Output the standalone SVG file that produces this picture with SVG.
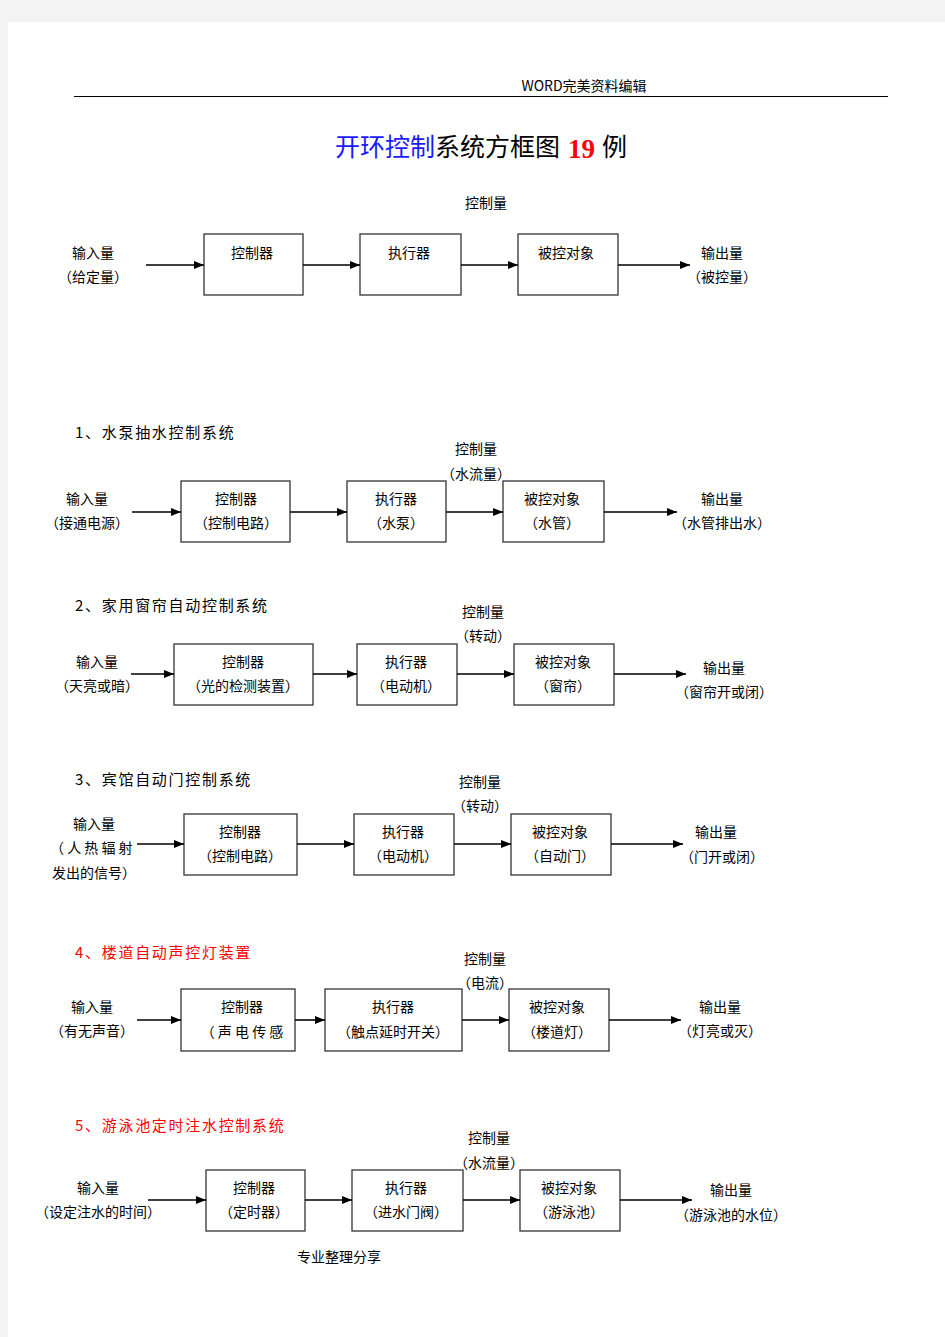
<svg xmlns="http://www.w3.org/2000/svg" width="945" height="1337" viewBox="0 0 945 1337">
<defs>
<marker id="ah" markerUnits="userSpaceOnUse" markerWidth="10" markerHeight="8" refX="10" refY="4" orient="auto">
<path d="M0,0 L10,4 L0,8 z" fill="#000"/>
</marker>
<style>
text{font-family:"Noto Sans CJK SC","Liberation Sans",sans-serif;font-size:14px;fill:#000;text-anchor:middle}
.l{text-anchor:start}
.h{font-size:15px;letter-spacing:1.7px}
.red{fill:#ff0000}
.box{fill:#fff;stroke:#333;stroke-width:1.3}
.c line{stroke:#000;stroke-width:1.6;marker-end:url(#ah)}
</style>
</defs>
<rect x="0" y="0" width="945" height="1337" fill="#f3f3f3"/>
<rect x="8" y="22" width="937" height="1315" fill="#fff"/>
<g id="header">
<text x="584" y="91" style="font-size:14px">WORD完美资料编辑</text>
<line x1="74" y1="96.5" x2="888" y2="96.5" stroke="#000" stroke-width="1"/>
</g>
<g id="title">
<text class="l" x="335" y="156" style="font-size:25px"><tspan fill="#1a1aff">开环控制</tspan>系统方框图</text>
<text class="l" x="568" y="158" style="font-family:'Liberation Serif',serif;font-size:27px;font-weight:bold;fill:#ff0000">19</text>
<text class="l" x="602" y="156" style="font-size:25px">例</text>
</g>

<!-- Diagram 0 -->
<g id="d0-labels">
<text x="486" y="208">控制量</text>
<text x="93" y="258">输入量</text>
<text x="93" y="282">（给定量）</text>
<text x="722" y="258">输出量</text>
<text x="722" y="282">（被控量）</text>
</g>
<g id="d0-ctrl"><rect class="box" x="204" y="234" width="99" height="61"/><text x="252" y="258">控制器</text></g>
<g id="d0-act"><rect class="box" x="360" y="234" width="101" height="61"/><text x="409" y="258">执行器</text></g>
<g id="d0-obj"><rect class="box" x="518" y="234" width="100" height="61"/><text x="566" y="258">被控对象</text></g>
<g id="d0-conn" class="c">
<line x1="146" y1="265" x2="204" y2="265"/>
<line x1="303" y1="265" x2="360" y2="265"/>
<line x1="461" y1="265" x2="518" y2="265"/>
<line x1="618" y1="265" x2="690" y2="265"/>
</g>

<!-- Diagram 1 -->
<text class="l h" x="75" y="438">1、水泵抽水控制系统</text>
<g id="d1-labels">
<text x="476" y="454">控制量</text>
<text x="476" y="479">（水流量）</text>
<text x="87" y="504">输入量</text>
<text x="87" y="528">（接通电源）</text>
<text x="722" y="504">输出量</text>
<text x="722" y="528">（水管排出水）</text>
</g>
<g id="d1-ctrl"><rect class="box" x="181" y="481" width="109" height="61"/><text x="236" y="504">控制器</text><text x="236" y="528">（控制电路）</text></g>
<g id="d1-act"><rect class="box" x="347" y="481" width="99" height="61"/><text x="396" y="504">执行器</text><text x="396" y="528">（水泵）</text></g>
<g id="d1-obj"><rect class="box" x="503" y="481" width="101" height="61"/><text x="552" y="504">被控对象</text><text x="552" y="528">（水管）</text></g>
<g id="d1-conn" class="c">
<line x1="132" y1="512" x2="181" y2="512"/>
<line x1="290" y1="512" x2="347" y2="512"/>
<line x1="446" y1="512" x2="503" y2="512"/>
<line x1="604" y1="512" x2="677" y2="512"/>
</g>

<!-- Diagram 2 -->
<text class="l h" x="75" y="611">2、家用窗帘自动控制系统</text>
<g id="d2-labels">
<text x="483" y="617">控制量</text>
<text x="483" y="641">（转动）</text>
<text x="97" y="667">输入量</text>
<text x="97" y="691">（天亮或暗）</text>
<text x="724" y="673">输出量</text>
<text x="724" y="697">（窗帘开或闭）</text>
</g>
<g id="d2-ctrl"><rect class="box" x="174" y="644" width="139" height="61"/><text x="243" y="667">控制器</text><text x="243" y="691">（光的检测装置）</text></g>
<g id="d2-act"><rect class="box" x="357" y="644" width="100" height="61"/><text x="406" y="667">执行器</text><text x="406" y="691">（电动机）</text></g>
<g id="d2-obj"><rect class="box" x="514" y="644" width="100" height="61"/><text x="563" y="667">被控对象</text><text x="563" y="691">（窗帘）</text></g>
<g id="d2-conn" class="c">
<line x1="131" y1="674" x2="174" y2="674"/>
<line x1="313" y1="674" x2="357" y2="674"/>
<line x1="457" y1="674" x2="514" y2="674"/>
<line x1="614" y1="674" x2="686" y2="674"/>
</g>

<!-- Diagram 3 -->
<text class="l h" x="75" y="785">3、宾馆自动门控制系统</text>
<g id="d3-labels">
<text x="480" y="787">控制量</text>
<text x="480" y="811">（转动）</text>
<text x="94" y="829">输入量</text>
<text class="l" x="50" y="853">（ 人 热 辐 射</text>
<text class="l" x="52" y="878">发出的信号）</text>
<text x="716" y="837">输出量</text>
<text x="722" y="862">（门开或闭）</text>
</g>
<g id="d3-ctrl"><rect class="box" x="184" y="814" width="113" height="61"/><text x="240" y="837">控制器</text><text x="240" y="861">（控制电路）</text></g>
<g id="d3-act"><rect class="box" x="354" y="814" width="100" height="61"/><text x="403" y="837">执行器</text><text x="403" y="861">（电动机）</text></g>
<g id="d3-obj"><rect class="box" x="511" y="814" width="100" height="61"/><text x="560" y="837">被控对象</text><text x="560" y="861">（自动门）</text></g>
<g id="d3-conn" class="c">
<line x1="137" y1="844" x2="184" y2="844"/>
<line x1="297" y1="844" x2="354" y2="844"/>
<line x1="454" y1="844" x2="511" y2="844"/>
<line x1="611" y1="844" x2="683" y2="844"/>
</g>

<!-- Diagram 4 -->
<text class="l h red" x="75" y="958">4、楼道自动声控灯装置</text>
<g id="d4-labels">
<text x="485" y="964">控制量</text>
<text x="485" y="988">（电流）</text>
<text x="92" y="1012">输入量</text>
<text x="92" y="1036">（有无声音）</text>
<text x="720" y="1012">输出量</text>
<text x="720" y="1036">（灯亮或灭）</text>
</g>
<g id="d4-ctrl"><rect class="box" x="181" y="989" width="114" height="62"/><text x="242" y="1012">控制器</text><text x="242" y="1037">（ 声 电 传 感</text></g>
<g id="d4-act"><rect class="box" x="325" y="989" width="137" height="62"/><text x="393" y="1012">执行器</text><text x="393" y="1037">（触点延时开关）</text></g>
<g id="d4-obj"><rect class="box" x="509" y="989" width="100" height="62"/><text x="557" y="1012">被控对象</text><text x="557" y="1037">（楼道灯）</text></g>
<g id="d4-conn" class="c">
<line x1="137" y1="1020" x2="181" y2="1020"/>
<line x1="295" y1="1020" x2="325" y2="1020"/>
<line x1="462" y1="1020" x2="509" y2="1020"/>
<line x1="609" y1="1020" x2="681" y2="1020"/>
</g>

<!-- Diagram 5 -->
<text class="l h red" x="75" y="1131">5、游泳池定时注水控制系统</text>
<g id="d5-labels">
<text x="489" y="1143">控制量</text>
<text x="489" y="1168">（水流量）</text>
<text x="98" y="1193">输入量</text>
<text x="98" y="1217">（设定注水的时间）</text>
<text x="731" y="1195">输出量</text>
<text x="731" y="1220">（游泳池的水位）</text>
</g>
<g id="d5-ctrl"><rect class="box" x="206" y="1170" width="99" height="61"/><text x="254" y="1193">控制器</text><text x="254" y="1217">（定时器）</text></g>
<g id="d5-act"><rect class="box" x="352" y="1170" width="111" height="61"/><text x="406" y="1193">执行器</text><text x="406" y="1217">（进水门阀）</text></g>
<g id="d5-obj"><rect class="box" x="520" y="1170" width="100" height="61"/><text x="569" y="1193">被控对象</text><text x="569" y="1217">（游泳池）</text></g>
<g id="d5-conn" class="c">
<line x1="148" y1="1200" x2="206" y2="1200"/>
<line x1="305" y1="1200" x2="352" y2="1200"/>
<line x1="463" y1="1200" x2="520" y2="1200"/>
<line x1="620" y1="1200" x2="692" y2="1200"/>
</g>
<text x="339" y="1262">专业整理分享</text>
</svg>
